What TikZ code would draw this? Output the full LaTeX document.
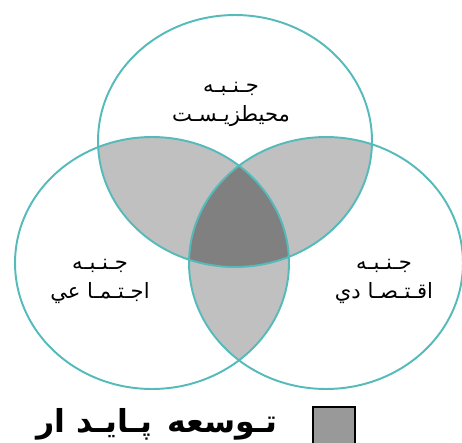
\documentclass[tikz,border=0pt]{standalone}
\usepackage{fontspec}
\usepackage{tikz}
\usetikzlibrary{positioning}
\usepackage{xcolor}
\TeXXeTstate=1
\newfontfamily\arabicfont[Script=Arabic]{DejaVu Sans}
\definecolor{ringteal}{RGB}{84,186,186}
\definecolor{pairgray}{RGB}{192,192,192}
\definecolor{coregray}{RGB}{128,128,128}
\definecolor{keygray}{RGB}{153,153,153}
\tikzset{
  ring/.style={draw=ringteal,line width=1.1pt},
  aspect/.style={align=center,font=\arabicfont\fontsize{12}{16.5}\selectfont},
}
\def\rx{2.74cm}
\def\ry{2.52cm}

\begin{document}
\begin{tikzpicture}[x=0.02cm,y=-0.02cm]
\useasboundingbox (0,0) rectangle (462,442);
\coordinate (env) at (235,141);
\coordinate (soc) at (152,263);
\coordinate (eco) at (326,263);
% pairwise overlaps
\begin{scope}
  \clip (env) ellipse [x radius=\rx,y radius=\ry];
  \fill[pairgray] (soc) ellipse [x radius=\rx,y radius=\ry];
  \fill[pairgray] (eco) ellipse [x radius=\rx,y radius=\ry];
\end{scope}
\begin{scope}
  \clip (soc) ellipse [x radius=\rx,y radius=\ry];
  \fill[pairgray] (eco) ellipse [x radius=\rx,y radius=\ry];
  \clip (eco) ellipse [x radius=\rx,y radius=\ry];
  \fill[coregray] (env) ellipse [x radius=\rx,y radius=\ry];
\end{scope}
% the three rings
\draw[ring] (env) ellipse [x radius=\rx,y radius=\ry];
\draw[ring] (soc) ellipse [x radius=\rx,y radius=\ry];
\draw[ring] (eco) ellipse [x radius=\rx,y radius=\ry];
% labels
\node[aspect] (envlbl) at (231,104) {\beginR جـنـبـه\endR\\\beginR محيطزيـسـت\endR};
\node[aspect] (soclbl) at (100,281) {\beginR جـنـبـه\endR\\\beginR اجـتـمـا عي\endR};
\node[aspect] (ecolbl) at (384,281) {\beginR جـنـبـه\endR\\\beginR اقـتـصـا دي\endR};
% legend
\node[rectangle,draw=black,line width=1.2pt,fill=keygray,
      minimum width=0.84cm,minimum height=0.84cm] (keybox) at (334,428) {};
\node[font=\arabicfont\bfseries\fontsize{18}{20}\selectfont,anchor=east]
      (keytext) at (284,424) {\beginR تـوسعه\hspace{0.3cm}پـايـد ار\endR};
\end{tikzpicture}
\end{document}
